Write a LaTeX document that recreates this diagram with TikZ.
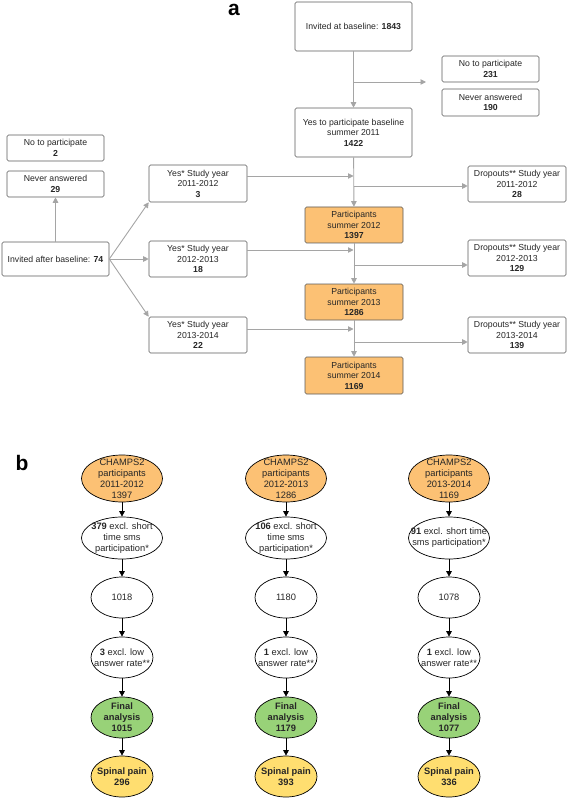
\documentclass[tikz,border=0pt]{standalone}
\usepackage{fontspec}
\setmainfont{Liberation Sans}
\usetikzlibrary{shapes.geometric,arrows.meta}

\definecolor{boxline}{RGB}{90,90,90}
\definecolor{flowgray}{RGB}{165,165,165}
\definecolor{partorange}{RGB}{252,193,116}
\definecolor{finalgreen}{RGB}{152,210,120}
\definecolor{painyellow}{RGB}{255,222,112}

\begin{document}
\begin{tikzpicture}[x=1pt,y=-1pt,>={Stealth[inset=0pt,length=5.5pt,width=5.5pt]},
    box/.style={draw=boxline,line width=0.6pt,rounded corners=1.5pt,fill=white,
        align=center,inner sep=0pt,text=black!85,font=\fontsize{8.7}{10.5}\selectfont},
    partbox/.style={box,fill=partorange,minimum width=98pt,minimum height=36pt},
    yearbox/.style={box,minimum width=98pt,minimum height=36pt},
    flow/.style={flowgray,line width=0.9pt},
    ell/.style={ellipse,draw=black,line width=0.7pt,inner sep=-12pt,align=center,
        text=black!85,font=\fontsize{9.3}{11}\selectfont},
    tag/.style={anchor=base,inner sep=0pt,font=\bfseries\fontsize{21}{21}\selectfont}]
    \useasboundingbox (0,0) rectangle (567,799);
    \def\spine{353.5}

    % a: flow of participants
    \node[tag] (taga) at (234,16) {a};
    \node[box,minimum width=117pt,minimum height=49pt] (inv) at (\spine,26.5) {Invited at baseline: \textbf{1843}};
    \node[box,minimum width=97pt,minimum height=26pt] (no231) at (490.5,69) {No to participate\\\textbf{231}};
    \node[box,minimum width=97pt,minimum height=27pt] (nev190) at (490.5,102.5) {Never answered\\\textbf{190}};
    \node[box,minimum width=117pt,minimum height=49pt] (yes) at (\spine,132.5) {Yes to participate baseline\\summer 2011\\\textbf{1422}};
    \node[partbox] (p12) at (354,225) {Participants\\summer 2012\\\textbf{1397}};
    \node[partbox] (p13) at (354,302) {Participants\\summer 2013\\\textbf{1286}};
    \node[partbox,minimum height=37pt] (p14) at (354,375.5) {Participants\\summer 2014\\\textbf{1169}};
    \node[yearbox] (d1) at (517,184) {Dropouts** Study year\\2011-2012\\\textbf{28}};
    \node[yearbox] (d2) at (517,258) {Dropouts** Study year\\2012-2013\\\textbf{129}};
    \node[yearbox] (d3) at (517,335) {Dropouts** Study year\\2013-2014\\\textbf{139}};

    \node[box,minimum width=97pt,minimum height=26pt] (no2) at (55.5,148) {No to participate\\\textbf{2}};
    \node[box,minimum width=97pt,minimum height=26pt] (nev29) at (55.5,184) {Never answered\\\textbf{29}};
    \node[box,minimum width=107pt,minimum height=34pt] (iab) at (55.5,259) {Invited after baseline: \textbf{74}};
    \node[yearbox,minimum height=37pt] (y1) at (198,183.5) {Yes* Study year\\2011-2012\\\textbf{3}};
    \node[yearbox] (y2) at (198,259) {Yes* Study year\\2012-2013\\\textbf{18}};
    \node[yearbox] (y3) at (198,335) {Yes* Study year\\2013-2014\\\textbf{22}};

    \coordinate (nofork) at (426,82);
    \draw[flow,->] (inv) -- (yes);
    \draw[flow,->] (inv.south |- nofork) -- (nofork);
    \draw[flow,->] (yes) -- (p12);
    \draw[flow,->] (p12) -- (p13);
    \draw[flow,->] (p13) -- (p14);
    \foreach \r/\yin/\yout in {1/176/186,2/250/265,3/329/342}{
        \draw[flow,->] (y\r.east |- 0,\yin) -- (inv.south |- 0,\yin);
        \draw[flow,->] (inv.south |- 0,\yout) -- (d\r.west |- 0,\yout);
    }
    \draw[flow,->] (iab) -- (nev29);
    \draw[flow,->] (iab.east) -- (y1.south west);
    \draw[flow,->] (iab.east) -- (y2.west);
    \draw[flow,->] (iab.east) -- (y3.north west);

    % b: selection for analysis
    \node[tag] (tagb) at (22,470) {b};
    \foreach \c/\x/\yr/\n/\sms/\kept/\low/\fin/\pain in {
        1/122/2011-2012/1397/{\textbf{379} excl. short\\time sms\\participation*}/1018/3/1015/296,
        2/286/2012-2013/1286/{\textbf{106} excl. short\\time sms\\participation*}/1180/1/1179/393,
        3/449/2013-2014/1169/{\textbf{91} excl. short time\\sms participation*}/1078/1/1077/336}{
        \node[ell,fill=partorange,minimum width=81pt,minimum height=47pt] (champs\c) at (\x,478.5) {CHAMPS2\\participants\\\yr\\\n};
        \node[ell,minimum width=81pt,minimum height=42pt] (sms\c) at (\x,538) {\sms};
        \node[ell,minimum width=62pt,minimum height=41pt] (kept\c) at (\x,597.5) {\kept};
        \node[ell,minimum width=62pt,minimum height=41pt] (low\c) at (\x,657.5) {\textbf{\low} excl. low\\answer rate**};
        \node[ell,fill=finalgreen,minimum width=62pt,minimum height=41pt] (final\c) at (\x,717.5) {\textbf{Final}\\\textbf{analysis}\\\textbf{\fin}};
        \node[ell,fill=painyellow,minimum width=62pt,minimum height=41pt] (pain\c) at (\x,776.5) {\textbf{Spinal pain}\\\textbf{\pain}};
        \draw[->,line width=0.7pt] (champs\c) -- (sms\c);
        \draw[->,line width=0.7pt] (sms\c) -- (kept\c);
        \draw[->,line width=0.7pt] (kept\c) -- (low\c);
        \draw[->,line width=0.7pt] (low\c) -- (final\c);
        \draw[->,line width=0.7pt] (final\c) -- (pain\c);
    }
\end{tikzpicture}
\end{document}
